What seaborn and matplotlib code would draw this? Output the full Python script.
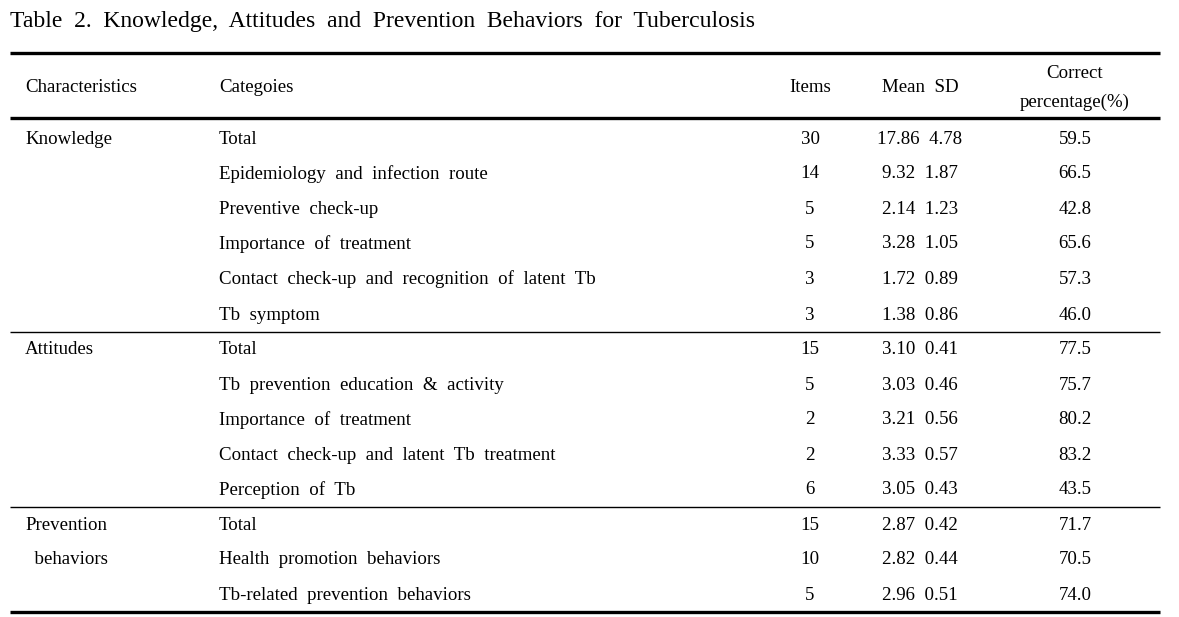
import matplotlib

matplotlib.use("Agg")

import matplotlib.pyplot as plt
import seaborn as sns

sns.set_theme(style="white")
plt.rcParams["font.family"] = ["Liberation Serif", "DejaVu Serif"]
plt.rcParams["text.color"] = "black"

title = "Table 2. Knowledge, Attitudes and Prevention Behaviors for Tuberculosis"
headers = ["Characteristics", "Categoies", "Items", "Mean  SD", "Correct\npercentage(%)"]

groups = ["Knowledge", "Attitudes", "Prevention\n  behaviors"]
group_sizes = [6, 5, 3]
categories = [
    "Total",
    "Epidemiology and infection route",
    "Preventive check-up",
    "Importance of treatment",
    "Contact check-up and recognition of latent Tb",
    "Tb symptom",
    "Total",
    "Tb prevention education & activity",
    "Importance of treatment",
    "Contact check-up and latent Tb treatment",
    "Perception of Tb",
    "Total",
    "Health promotion behaviors",
    "Tb-related prevention behaviors",
]
items = [30, 14, 5, 5, 3, 3, 15, 5, 2, 2, 6, 15, 10, 5]
means = [17.86, 9.32, 2.14, 3.28, 1.72, 1.38, 3.10, 3.03, 3.21, 3.33, 3.05, 2.87, 2.82, 2.96]
sds = [4.78, 1.87, 1.23, 1.05, 0.89, 0.86, 0.41, 0.46, 0.56, 0.57, 0.43, 0.42, 0.44, 0.51]
correct_pct = [59.5, 66.5, 42.8, 65.6, 57.3, 46.0, 77.5, 75.7, 80.2, 83.2, 43.5, 71.7, 70.5, 74.0]


def spaced(text):
    # the source uses wide word gaps
    return text.replace(" ", "  ")


fig = plt.figure(figsize=(11.79, 6.17), dpi=100)
ax = fig.add_axes([0, 0, 1, 1])
ax.set_xlim(0, 1179)
ax.set_ylim(617, 0)
ax.axis("off")

fs = 13.6
ax.text(10, 21, spaced(title), fontsize=17, va="center", ha="left")

x_left, x_right = 10, 1160
ax.hlines(53, x_left, x_right, color="black", linewidth=2.4)
ax.hlines(118, x_left, x_right, color="black", linewidth=2.4)

ax.text(25, 88, headers[0], fontsize=fs, va="center")
ax.text(219, 88, headers[1], fontsize=fs, va="center")
ax.text(810, 88, headers[2], fontsize=fs, va="center", ha="center")
ax.text(920, 88, headers[3], fontsize=fs, va="center", ha="center")
ax.text(1075, 88, headers[4], fontsize=fs, va="center", ha="center", linespacing=1.9,
        multialignment="center")

row_y = [139, 174, 209, 244, 279, 315, 350, 385, 420, 455, 490, 525, 560, 595]
sep_y = [332, 507]

row = 0
for g, size in zip(groups, group_sizes):
    if "\n" in g:
        first, second = g.split("\n")
        ax.text(25, row_y[row], first, fontsize=fs, va="center")
        ax.text(25, row_y[row + 1], second, fontsize=fs, va="center")
    else:
        ax.text(25, row_y[row], g, fontsize=fs, va="center")
    row += size

for i, y in enumerate(row_y):
    ax.text(219, y, spaced(categories[i]), fontsize=fs, va="center")
    ax.text(810, y, f"{items[i]}", fontsize=fs, va="center", ha="center")
    ax.text(920, y, f"{means[i]:.2f}  {sds[i]:.2f}", fontsize=fs, va="center", ha="center")
    ax.text(1075, y, f"{correct_pct[i]:.1f}", fontsize=fs, va="center", ha="center")

for y in sep_y:
    ax.hlines(y, x_left, x_right, color="black", linewidth=1.0)
ax.hlines(612, x_left, x_right, color="black", linewidth=2.4)

fig.savefig("out.png", dpi=100, facecolor="white")
